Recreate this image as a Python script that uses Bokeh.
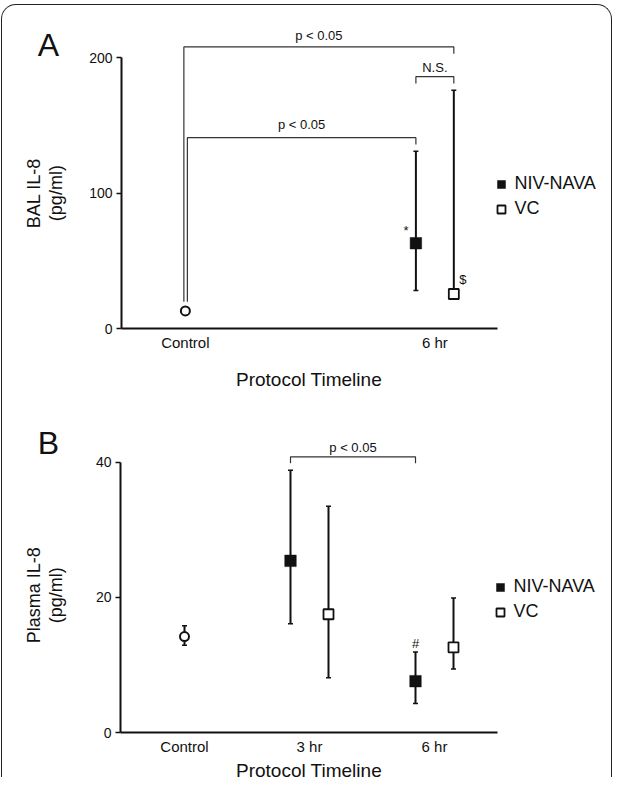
import numpy as np
from bokeh.plotting import figure
from bokeh.models import (ColumnDataSource, Whisker, TeeHead, Legend, LegendItem,
                          FixedTicker, InlineStyleSheet)
from bokeh.layouts import column, row
from bokeh.embed import file_html
from bokeh.resources import INLINE
from bokeh.core.properties import value

FONT = "Liberation Sans"
INK = "#111111"

# ---------------- data ----------------
timeline_A = ["Control", "6 hr"]
timeline_A_pos = [0, 2]
timeline_B = ["Control", "3 hr", "6 hr"]
timeline_B_pos = [0, 1, 2]
group_offset = 0.152
x_title = "Protocol Timeline"
series_names = ["NIV-NAVA", "VC"]

# Panel A : BAL IL-8 (pg/ml)
a_title = "A"
a_ylabel = ["BAL IL-8", "(pg/ml)"]
a_ticks = [0, 100, 200]
a_control_pos = [0]
a_control_mean = [13.0]
a_niv_pos = [2]
a_niv_mean = [63.0]
a_niv_lo = [28.0]
a_niv_hi = [131.0]
a_vc_pos = [2]
a_vc_mean = [25.5]
a_vc_lo = [25.5]
a_vc_hi = [176.0]

# Panel A significance brackets
a_br_x0 = [-0.012, 0.016, 2 - group_offset]
a_br_x1 = [2 + group_offset, 2 - group_offset, 2 + group_offset]
a_br_y = [208.0, 141.0, 186.0]
a_br_left_end = [19.7, 19.7, 181.0]
a_br_right_end = [203.0, 136.0, 181.0]
a_br_text = ["p < 0.05", "p < 0.05", "N.S."]
a_br_text_y = [216.4, 150.6, 192.5]

a_marks_text = ["*", "$"]
a_marks_x = [1.768, 2.225]
a_marks_y = [72.5, 36.0]

# Panel B : Plasma IL-8 (pg/ml)
b_title = "B"
b_ylabel = ["Plasma IL-8", "(pg/ml)"]
b_ticks = [0, 20, 40]
b_control_pos = [0]
b_control_mean = [14.2]
b_control_lo = [12.9]
b_control_hi = [15.8]
b_niv_pos = [1, 2]
b_niv_mean = [25.4, 7.6]
b_niv_lo = [16.1, 4.3]
b_niv_hi = [38.8, 11.9]
b_vc_pos = [1, 2]
b_vc_mean = [17.5, 12.6]
b_vc_lo = [8.1, 9.4]
b_vc_hi = [33.5, 19.9]

b_br_x0 = [1 - group_offset]
b_br_x1 = [2 - group_offset]
b_br_y = [40.8]
b_br_left_end = [39.85]
b_br_right_end = [39.85]
b_br_text = ["p < 0.05"]
b_br_text_y = [42.2]

b_marks_text = ["#"]
b_marks_x = [2 - group_offset]
b_marks_y = [13.1]

LEFT_W, MAIN_W = 86, 527
FULL_W = LEFT_W + MAIN_W
PX_PER_CAT = 125.0
X_START, X_AXIS_END = -0.512, 2.5
X_END = X_START + (MAIN_W - 34) / PX_PER_CAT

# vertical geometry: (height, border top, border bottom, y range end)
A_H, A_TOP, A_BOT, A_YEND = 354, 18, 26, 229.0
B_H, B_TOP, B_BOT, B_YEND = 365, 26, 23, 46.47


def make_main(height, y_end, top, bottom, ticks, cats, cat_pos, y_bound):
    p = figure(width=MAIN_W, height=height, x_range=(X_START, X_END), y_range=(0, y_end),
               output_backend="svg", toolbar_location=None, title=None,
               min_border_left=34, min_border_right=0,
               min_border_top=top, min_border_bottom=bottom)
    p.outline_line_color = None
    p.grid.visible = False
    for ax in (p.xaxis, p.yaxis):
        ax.axis_line_width = 2
        ax.axis_line_color = INK
        ax.minor_tick_line_color = None
        ax.major_label_text_font = FONT
        ax.major_label_text_color = INK
    p.xaxis.ticker = FixedTicker(ticks=cat_pos)
    p.xaxis.major_label_overrides = {pos: c for pos, c in zip(cat_pos, cats)}
    p.xaxis.bounds = (X_START, X_AXIS_END)
    p.xaxis.major_tick_line_color = None
    p.xaxis.major_tick_out = 0
    p.xaxis.major_tick_in = 0
    p.xaxis.major_label_standoff = 5
    p.xaxis.major_label_text_font_size = "15px"
    p.yaxis.ticker = FixedTicker(ticks=ticks)
    p.yaxis.bounds = (0, y_bound)
    p.yaxis.major_tick_out = 5
    p.yaxis.major_tick_in = 0
    p.yaxis.major_tick_line_width = 1.5
    p.yaxis.major_tick_line_color = INK
    p.yaxis.major_label_standoff = 4
    p.yaxis.major_label_text_font_size = "14px"
    return p


def make_blank(width, height, xr, yr, top=0, bottom=0):
    p = figure(width=width, height=height, x_range=xr, y_range=yr,
               output_backend="svg", toolbar_location=None, title=None,
               x_axis_type=None, y_axis_type=None,
               min_border_left=0, min_border_right=0,
               min_border_top=top, min_border_bottom=bottom)
    p.outline_line_color = None
    p.grid.visible = False
    return p


def add_text(p, xs, ys, texts, size, angle=0.0, baseline="middle"):
    src = ColumnDataSource(dict(x=xs, y=ys, t=texts))
    p.text(x="x", y="y", text="t", source=src, text_font=value(FONT),
           text_font_size=value(size), text_align="center", text_baseline=baseline,
           text_color=INK, angle=angle)


def add_brackets(p, x0, x1, y, le, re):
    xs = [[a, a, b, b] for a, b in zip(x0, x1)]
    ys = [[l, h, h, r] for l, h, r in zip(le, y, re)]
    p.multi_line(xs=xs, ys=ys, line_color="#333333", line_width=1.2)


def add_whisker(p, pos, lo, hi):
    src = ColumnDataSource(dict(x=pos, lo=lo, hi=hi))
    w = Whisker(source=src, base="x", lower="lo", upper="hi", dimension="height",
                line_width=2, line_color=INK,
                upper_head=TeeHead(size=5, line_width=1.5, line_color=INK),
                lower_head=TeeHead(size=5, line_width=1.5, line_color=INK))
    p.add_layout(w)


def add_legend(p, r_niv, r_vc, loc):
    leg = Legend(items=[LegendItem(label=series_names[0], renderers=[r_niv]),
                        LegendItem(label=series_names[1], renderers=[r_vc])],
                 location=loc, glyph_width=20, glyph_height=20, spacing=4,
                 padding=0, margin=0, label_standoff=4, label_height=20,
                 label_text_font=FONT, label_text_font_size="18px",
                 label_text_color=INK,
                 border_line_color=None, background_fill_alpha=0)
    p.add_layout(leg)


def draw_points(p, ctrl_pos, ctrl_mean, niv_pos, niv_mean, vc_pos, vc_mean):
    p.scatter(ctrl_pos, ctrl_mean, marker="circle", size=9,
              fill_color="white", line_color=INK, line_width=2)
    r_niv = p.scatter([x - group_offset for x in niv_pos], niv_mean, marker="square",
                      size=11.5, fill_color=INK, line_color=INK, line_width=0.5)
    r_vc = p.scatter([x + group_offset for x in vc_pos], vc_mean, marker="square",
                     size=10, fill_color="white", line_color=INK, line_width=1.8)
    return r_niv, r_vc


# ---------------- Panel A ----------------
pA = make_main(A_H, A_YEND, A_TOP, A_BOT, a_ticks, timeline_A, timeline_A_pos, 200)
add_brackets(pA, a_br_x0, a_br_x1, a_br_y, a_br_left_end, a_br_right_end)
add_text(pA, [(a + b) / 2 for a, b in zip(a_br_x0, a_br_x1)], a_br_text_y, a_br_text, "13px")
add_whisker(pA, [x - group_offset for x in a_niv_pos], a_niv_lo, a_niv_hi)
add_whisker(pA, [x + group_offset for x in a_vc_pos], a_vc_lo, a_vc_hi)
rA_niv, rA_vc = draw_points(pA, a_control_pos, a_control_mean, a_niv_pos, a_niv_mean,
                            a_vc_pos, a_vc_mean)
add_text(pA, a_marks_x, a_marks_y, a_marks_text, "13px")
add_legend(pA, rA_niv, rA_vc, (369.5, 109))

# left strip of panel A: same frame rows and y range as pA
leftA = make_blank(LEFT_W, A_H, (8, 8 + LEFT_W), (0, A_YEND), A_TOP, A_BOT)
add_text(leftA, [56], [209.7], [a_title], "32px", baseline="alphabetic")
add_text(leftA, [41, 63.5], [100, 100], a_ylabel, "18px", angle=np.pi / 2)

# strip below panel A holding its x-axis title (y measured up from strip bottom)
STRIP_A_H = 38
stripA = make_blank(FULL_W, STRIP_A_H, (8, 8 + FULL_W), (0, STRIP_A_H))
add_text(stripA, [316.5], [13.4], [x_title], "19px", baseline="alphabetic")

# ---------------- Panel B ----------------
pB = make_main(B_H, B_YEND, B_TOP, B_BOT, b_ticks, timeline_B, timeline_B_pos, 40)
add_brackets(pB, b_br_x0, b_br_x1, b_br_y, b_br_left_end, b_br_right_end)
add_text(pB, [(a + b) / 2 for a, b in zip(b_br_x0, b_br_x1)], b_br_text_y, b_br_text, "13px")
add_whisker(pB, b_control_pos, b_control_lo, b_control_hi)
add_whisker(pB, [x - group_offset for x in b_niv_pos], b_niv_lo, b_niv_hi)
add_whisker(pB, [x + group_offset for x in b_vc_pos], b_vc_lo, b_vc_hi)
rB_niv, rB_vc = draw_points(pB, b_control_pos, b_control_mean, b_niv_pos, b_niv_mean,
                            b_vc_pos, b_vc_mean)
add_text(pB, b_marks_x, b_marks_y, b_marks_text, "13px")
add_legend(pB, rB_niv, rB_vc, (369.5, 110))

leftB = make_blank(LEFT_W, B_H, (8, 8 + LEFT_W), (0, B_YEND), B_TOP, B_BOT)
add_text(leftB, [56], [42.9], [b_title], "32px", baseline="alphabetic")
add_text(leftB, [41, 63.5], [20.3, 20.3], b_ylabel, "18px", angle=np.pi / 2)

# bottom strip holding panel B's x-axis title
STRIP_B_H = 20
stripB = make_blank(FULL_W, STRIP_B_H, (8, 8 + FULL_W), (0, STRIP_B_H))
add_text(stripB, [316.5], [7.0], [x_title], "19px", baseline="alphabetic")

TOTAL_H = A_H + STRIP_A_H + B_H + STRIP_B_H
css = (":host{position:relative;} "
       ":host::after{content:'';position:absolute;left:1px;top:4px;"
       f"width:{FULL_W - 2}px;height:{TOTAL_H - 4}px;"
       "border:1.6px solid #222;border-bottom:none;border-radius:15px 15px 0 0;"
       "box-sizing:border-box;pointer-events:none;z-index:10;}")
layout = column(row(leftA, pA), stripA, row(leftB, pB), stripB,
                stylesheets=[InlineStyleSheet(css=css)])

open("out.html", "w").write(file_html(layout, INLINE))
